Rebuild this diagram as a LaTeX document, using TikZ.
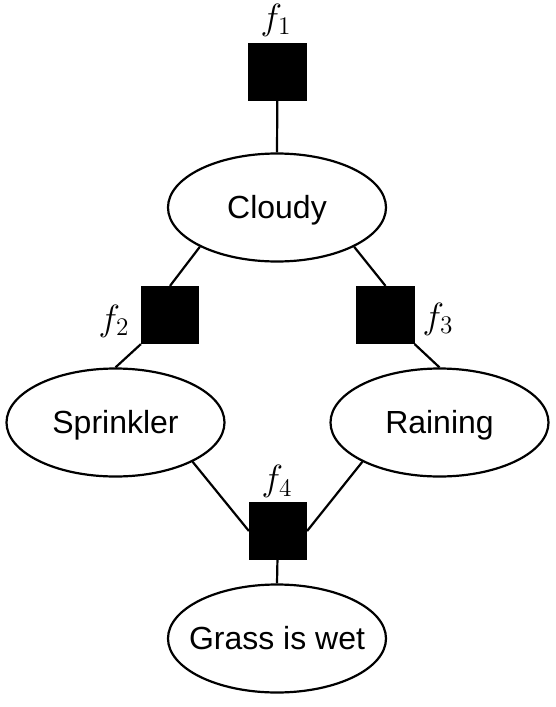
\documentclass[tikz,border=0pt]{standalone}
\usepackage{fontspec}
\setmainfont{Liberation Sans}
\usetikzlibrary{shapes.geometric}

\begin{document}
\begin{tikzpicture}[
   var/.style={draw,ellipse,line width=1.25pt,minimum width=4.36cm,minimum height=2.16cm,inner xsep=-0.3cm,inner ysep=0pt,text height=13pt,text depth=0pt,font=\fontsize{18.2}{20}\selectfont},
   factor/.style={draw,fill=black,line width=1.25pt,minimum size=1.12cm,inner sep=0pt},
   flab/.style={inner sep=0pt,font=\fontsize{19.5}{22}\selectfont},
   edge/.style={line width=1.25pt}]
   \useasboundingbox (0,0) rectangle (11.12,-14.14);

   %% Variablen
   \node[var] (cloudy) at (5.54,-4.15) {Cloudy};
   \node[var] (sprinkler) at (2.31,-8.45) {Sprinkler};
   \node[var] (raining) at (8.79,-8.45) {Raining};
   \node[var] (grass) at (5.54,-12.77) {Grass is wet};

   %% Faktoren
   \node[factor] (f1) at (5.55,-1.44) {};
   \node[factor] (f2) at (3.40,-6.30) {};
   \node[factor] (f3) at (7.71,-6.30) {};
   \node[factor] (f4) at (5.56,-10.62) {};

   \node[flab] (f1lab) at (5.52,-0.40) {$f_1$};
   \node[flab] (f2lab) at (2.28,-6.42) {$f_2$};
   \node[flab] (f3lab) at (8.76,-6.38) {$f_3$};
   \node[flab] (f4lab) at (5.54,-9.63) {$f_4$};

   %% Kanten
   \draw[edge] (f1) -- (cloudy.north);
   \draw[edge] (cloudy.207) -- (f2.north);
   \draw[edge] (cloudy.333) -- (f3.north);
   \draw[edge] (f2.south west) -- (sprinkler.north);
   \draw[edge] (f3.south east) -- (raining.north);
   \draw[edge] (sprinkler.333) -- (f4.west);
   \draw[edge] (raining.207) -- (f4.east);
   \draw[edge] (f4) -- (grass.north);
\end{tikzpicture}
\end{document}
